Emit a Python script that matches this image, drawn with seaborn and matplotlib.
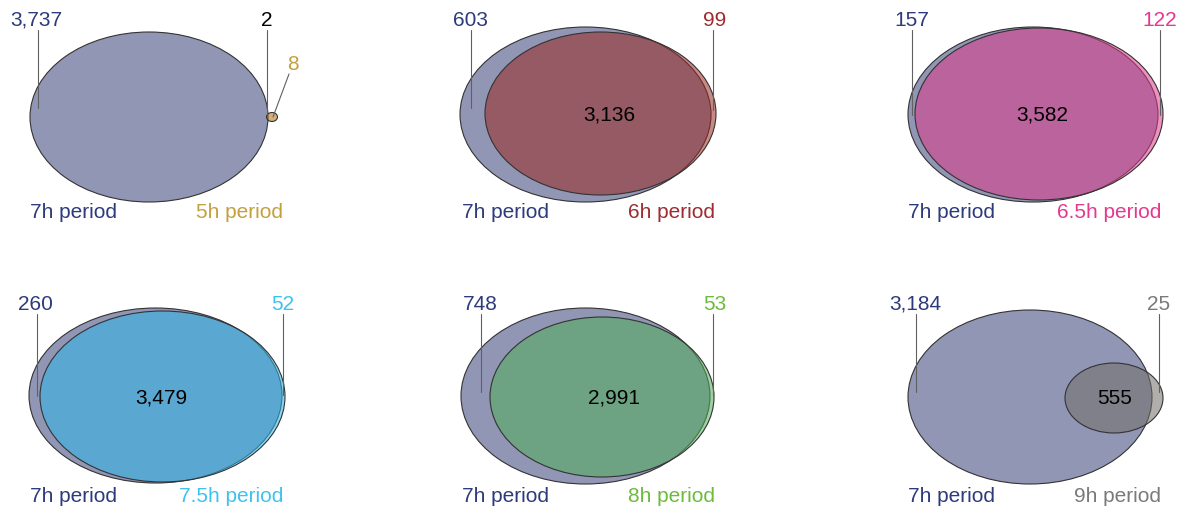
import matplotlib
matplotlib.use("Agg")
import matplotlib.pyplot as plt
from matplotlib.patches import Ellipse
import seaborn as sns

# ---- data -------------------------------------------------------------
base_period = "7h period"
periods = ["5h period", "6h period", "6.5h period", "7.5h period", "8h period", "9h period"]
only_base = [3737, 603, 157, 260, 748, 3184]      # genes only in the 7h set
shared = [2, 3136, 3582, 3479, 2991, 555]         # genes in both sets
only_other = [8, 99, 122, 52, 53, 25]             # genes only in the compared set

base_fill = "#9296b5"
base_text = "#2d3a7c"
other_fill = ["#ad6e14", "#992922", "#dc398b", "#2cb7ea", "#50ac58", "#716e67"]
other_text = ["#c4a03c", "#9e2b2f", "#e4398e", "#3ec3f0", "#6cbb3c", "#7a7a7a"]

# ---- layout (pixel units inside each panel) ---------------------------
col_x = [0, 432, 878]
row_y = [0, 284]

# (cx, cy, half-width, half-height) for the 7h ellipse and the compared ellipse
base_ell = [(149, 117, 119, 85), (153.5, 114.5, 125.5, 87.5), (155, 114.5, 125, 87.5),
            (155.5, 111.5, 126.5, 87.5), (153.5, 112, 124.5, 88), (152, 113, 122, 87)]
other_ell = [(272, 117, 5.5, 4.5), (168.5, 113.5, 115.5, 81.5), (161, 114, 124, 86),
             (162.5, 112.5, 122.5, 85.5), (170, 113, 112, 80), (236, 114, 49, 35)]

# label x, leader x, leader end y for the left (7h only) count
left_lab = [(36, 38, 108), (38, 39, 108), (34, 34, 115), (35, 37, 112), (48, 49, 108), (37, 38, 108)]
# label x, leader x, leader end y for the right (compared only) count
right_lab = [(None, None, None), (283, 281, 110), (282, 282, 115), (283, 283, 111),
             (283, 281, 111), (281, 281, 108)]
shared_pos = [(267, 20), (177, 115), (164, 115), (161, 114), (182, 114), (237, 114)]

W, H = 1182, 508
sns.set_theme(style="white")
plt.rcParams["font.family"] = ["Liberation Sans", "DejaVu Sans"]

fig = plt.figure(figsize=(W / 100, H / 100), dpi=100)
ax = fig.add_axes([0, 0, 1, 1])
ax.set_xlim(0, W)
ax.set_ylim(H, 0)
ax.set_axis_off()

FS = 15
EDGE = "#333333"
LEAD = "#606060"
ALPHA = 0.55

for i, period in enumerate(periods):
    ox = col_x[i % 3]
    oy = row_y[i // 3]

    bx, by, bw, bh = base_ell[i]
    ax.add_patch(Ellipse((ox + bx, oy + by), 2 * bw, 2 * bh, facecolor=base_fill,
                         edgecolor=EDGE, lw=0.8, zorder=1))
    cx, cy, cw, ch = other_ell[i]
    ax.add_patch(Ellipse((ox + cx, oy + cy), 2 * cw, 2 * ch, facecolor=other_fill[i],
                         alpha=ALPHA, edgecolor="none", zorder=2))
    ax.add_patch(Ellipse((ox + cx, oy + cy), 2 * cw, 2 * ch, facecolor="none",
                         edgecolor=EDGE, lw=0.8, zorder=3))

    # 7h-only count with leader line
    lx, llx, lend = left_lab[i]
    ax.text(ox + lx, oy + 20, f"{only_base[i]:,}", color=base_text, fontsize=FS,
            ha="center", va="center")
    ax.plot([ox + llx, ox + llx], [oy + 30, oy + lend], color=LEAD, lw=0.8, zorder=4)

    if i == 0:
        # tiny overlap: shared count placed above with its own leader
        sx, sy = shared_pos[i]
        ax.text(ox + sx, oy + sy, f"{shared[i]:,}", color="black", fontsize=FS,
                ha="center", va="center")
        ax.plot([ox + sx, ox + sx], [oy + 30, oy + 114], color=LEAD, lw=0.8, zorder=4)
        ax.text(ox + 293, oy + 64, f"{only_other[i]:,}", color=other_text[i], fontsize=FS,
                ha="center", va="center")
        ax.plot([ox + 289, ox + 273], [oy + 74, oy + 117], color=LEAD, lw=0.8, zorder=4)
    else:
        sx, sy = shared_pos[i]
        ax.text(ox + sx, oy + sy, f"{shared[i]:,}", color="black", fontsize=FS,
                ha="center", va="center", zorder=5)
        rx, rlx, rend = right_lab[i]
        ax.text(ox + rx, oy + 20, f"{only_other[i]:,}", color=other_text[i], fontsize=FS,
                ha="center", va="center")
        ax.plot([ox + rlx, ox + rlx], [oy + 30, oy + rend], color=LEAD, lw=0.8, zorder=4)

    # set names under each diagram
    ax.text(ox + 30, oy + 213, base_period, color=base_text, fontsize=FS,
            ha="left", va="center")
    ax.text(ox + 283, oy + 213, period, color=other_text[i], fontsize=FS,
            ha="right", va="center")

fig.savefig("out.png", dpi=100, facecolor="white")
